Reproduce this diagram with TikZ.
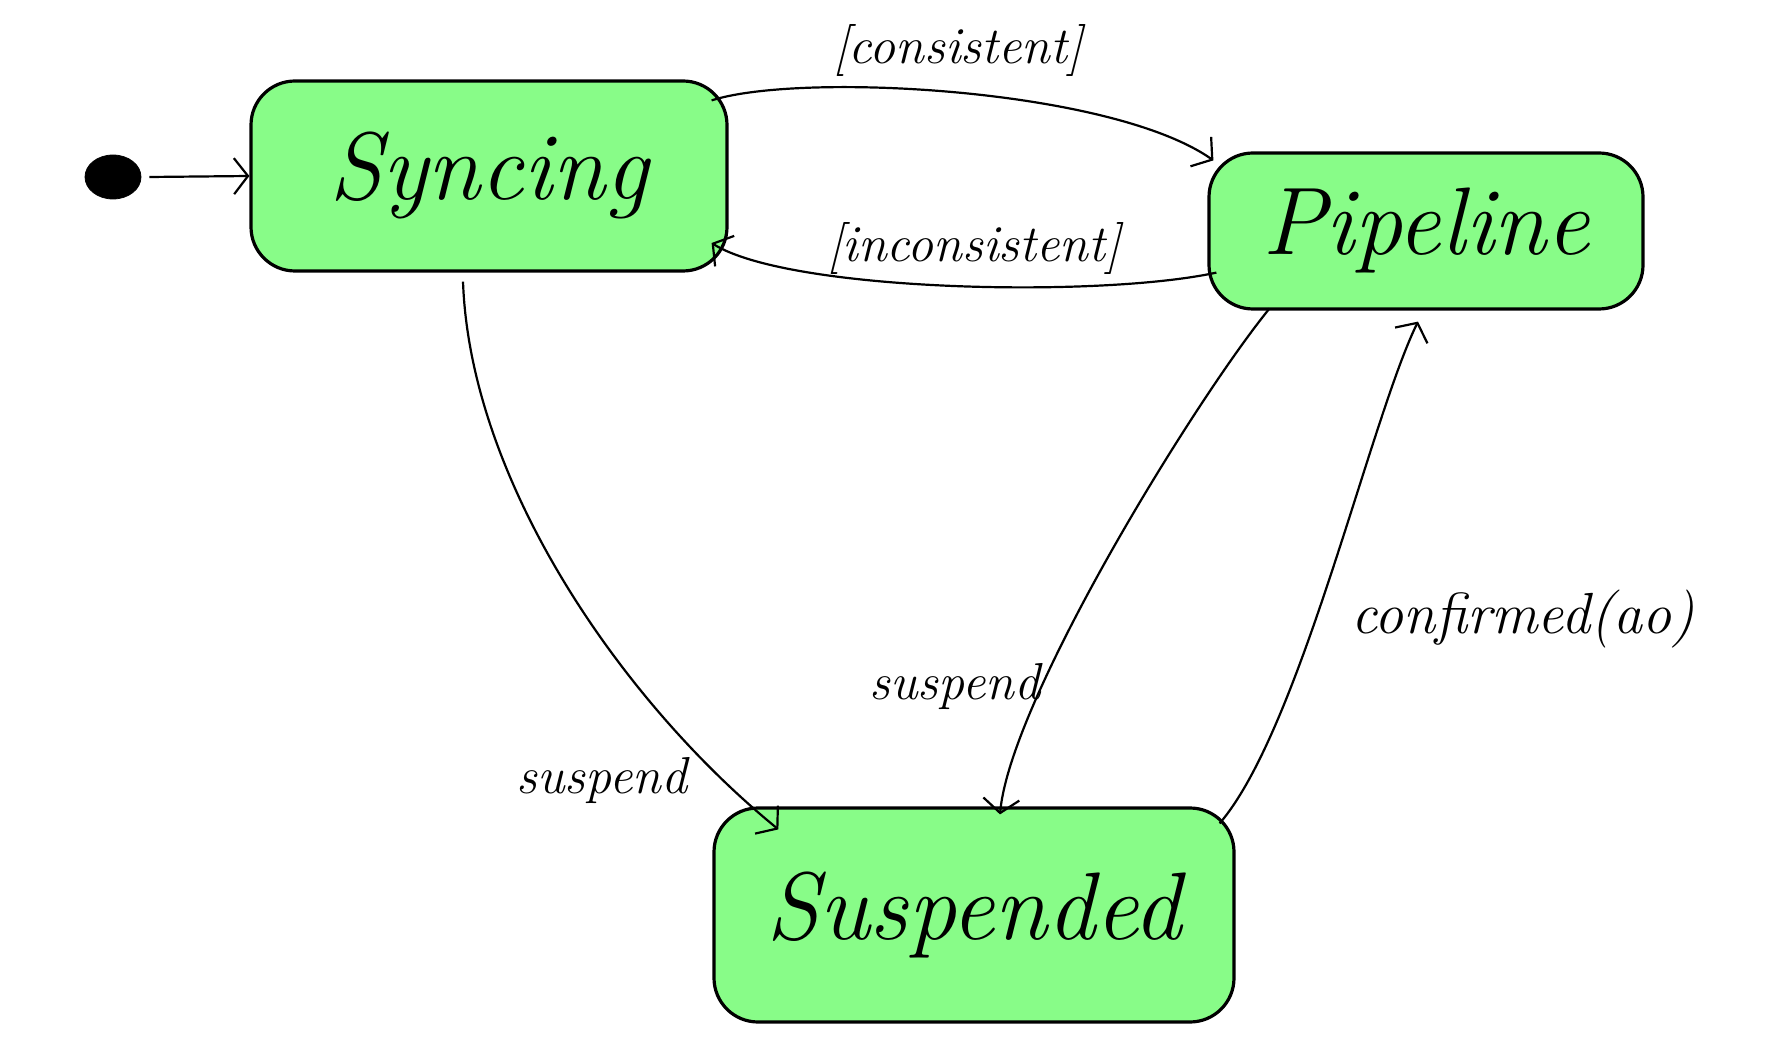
\documentclass[tikz,border=0pt]{standalone}
\usetikzlibrary{arrows.meta,calc,shapes.geometric}
\definecolor{stategreen}{RGB}{136,252,136}
\begin{document}
\begin{tikzpicture}[x=0.5pt,y=-0.5pt,
  state/.style={draw=black,line width=1.6pt,fill=stategreen,rounded corners=22pt,
    font=\fontsize{48}{52}\selectfont\itshape,inner sep=0pt},
  edge/.style={line width=1.1pt,-{Straight Barb[length=7pt,width=18pt,line width=1.1pt]}},
  lbl/.style={font=\fontsize{26}{28}\selectfont\itshape,inner sep=0pt}]
\useasboundingbox (0,0) rectangle (1772,1063);
\node[state,minimum width=238pt,minimum height=95pt] (sync) at (489,176) {Syncing};
\node[state,minimum width=217pt,minimum height=78pt] (pipe) at (1426,231) {Pipeline};
\node[state,minimum width=260pt,minimum height=107pt] (susp) at (974,915) {Suspended};
\node[fill=black,draw,ellipse,minimum width=28pt,minimum height=22pt,inner sep=0pt] (init) at (113,177) {};
\coordinate (i0) at ($(init.east)+(8,0)$);
\draw[edge] (i0) -- (sync.west);
\draw[edge] ($(sync.north east)+(-17,21)$) .. controls (800,72) and (1110,88) .. ($(pipe.north west)+(6,9)$);
\draw[edge] ($(pipe.south west)+(9,-38)$) .. controls (1100,298) and (790,292) .. ($(sync.east)+(-17,67)$);
\draw[edge] ($(sync.south)+(-26,9)$) .. controls (470,480) and (620,700) .. ($(susp.north west)+(66,23)$);
\draw[edge] ($(pipe.south west)+(62,-2)$) .. controls (1195,400) and (1010,700) .. ($(susp.north)+(26,8)$);
\draw[edge] ($(susp.north east)+(-16,17)$) .. controls (1300,730) and (1370,420) .. ($(pipe.south)+(-8,11)$);
\node[lbl] (lcons) at (958,51) {[consistent]};
\node[lbl] (lincons) at (974,249) {[inconsistent]};
\node[lbl] (ls1) at (602,780) {suspend};
\node[lbl] (ls2) at (955,686) {suspend};
\node[lbl,font=\fontsize{29}{31}\selectfont\itshape] (lconf) at (1523,619) {confirmed(ao)};
\end{tikzpicture}
\end{document}
